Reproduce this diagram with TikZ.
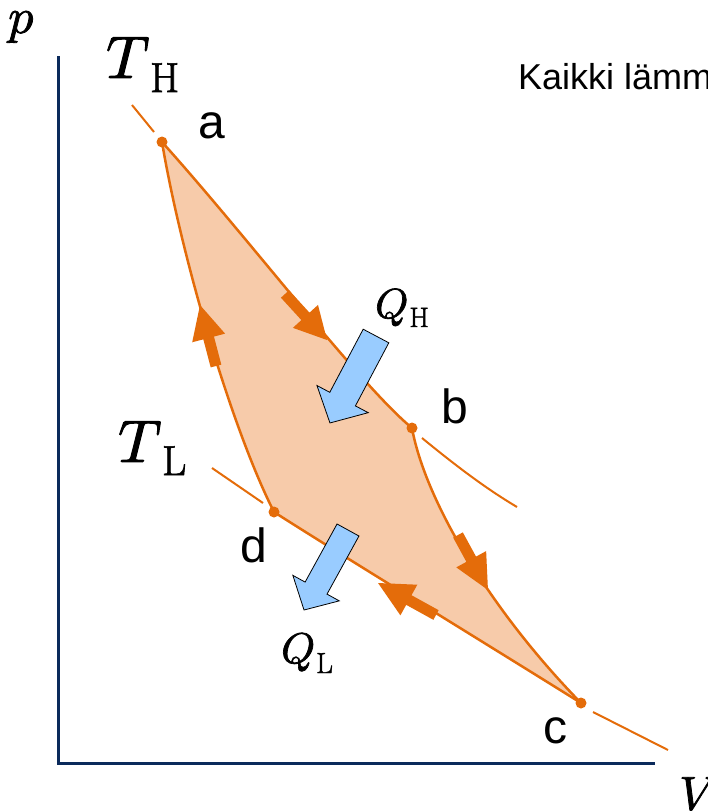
\documentclass[tikz,border=0pt]{standalone}
\usepackage{fontspec}
\usepackage{unicode-math}
\setmathfont{Latin Modern Math}[FakeBold=1.6]
\newfontfamily\arialf{Liberation Sans}
\newfontfamily\labserif[FakeBold=1.6]{Latin Modern Roman}
\definecolor{cyc}{HTML}{E46C0A}
\definecolor{cycfill}{HTML}{F7CBAA}
\definecolor{qblue}{HTML}{99CCFF}
\definecolor{axisblue}{HTML}{0B2A5B}
\tikzset{
  pics/blockarrow/.style n args={4}{code={
    \path[pic actions] (0,-#1) -- (#2,-#1) -- (#2,-#3) -- (#4,0) -- (#2,#3) -- (#2,#1) -- (0,#1) -- cycle;}},
  cycleline/.style={draw=cyc, line width=2.5pt, line join=round},
  isoline/.style={draw=cyc, line width=2pt},
  flowtip/.style={fill=cyc},
  qarrow/.style={fill=qblue, draw=black, line width=0.8pt, line join=miter},
  ptlabel/.style={font=\arialf\fontsize{48}{48}\selectfont, anchor=base west, inner sep=0pt},
  mlabel/.style={anchor=base west, inner sep=0pt, font=\labserif},
  axisline/.style={draw=axisblue, line width=3pt},
  vdot/.style={fill=cyc}
}
\begin{document}
\begin{tikzpicture}[x=1pt,y=-1pt]
\useasboundingbox (0,0) rectangle (707,811);
% state points
\coordinate (a) at (162,142);
\coordinate (b) at (412,428);
\coordinate (c) at (581,703);
\coordinate (d) at (274,512);
% isotherm extensions
\coordinate (h1) at (132,105);
\coordinate (h2) at (154,132);
\coordinate (h3) at (422,438);
\coordinate (h4) at (517,507);
\coordinate (l1) at (212,468);
\coordinate (l2) at (263,503);
\coordinate (l3) at (593,712);
\coordinate (l4) at (668,750);
% cycle fill
\fill[cycfill] (a) .. controls (250,240) and (360,385) .. (b)
  .. controls (425,500) and (490,610) .. (c)
  .. controls (480,640) and (330,548) .. (d)
  .. controls (230,425) and (180,250) .. (a) -- cycle;
% isotherm extensions
\draw[isoline] (h1) -- (h2);
\draw[isoline] (h3) .. controls (455,465) and (485,488) .. (h4);
\draw[isoline] (l1) -- (l2);
\draw[isoline] (l3) -- (l4);
% cycle edges
\draw[cycleline] (a) .. controls (250,240) and (360,385) .. (b);
\draw[cycleline] (b) .. controls (425,500) and (490,610) .. (c);
\draw[cycleline] (c) .. controls (480,640) and (330,548) .. (d);
\draw[cycleline] (d) .. controls (230,425) and (180,250) .. (a);
% flow direction arrows
\pic[flowtip, rotate=-47.6] at (285,294) {blockarrow={5.5}{30.3}{17}{62.3}};
\pic[flowtip, rotate=-61.4] at (458,535) {blockarrow={5.5}{27.6}{17}{62.6}};
\pic[flowtip, rotate=151.1] at (436,615) {blockarrow={5.5}{31}{17.5}{66.2}};
\pic[flowtip, rotate=104.7] at (216,366) {blockarrow={5.5}{29}{17}{63}};
% state dots
\fill[vdot] (a) circle (5.5);
\fill[vdot] (b) circle (5.5);
\fill[vdot] (c) circle (5.5);
\fill[vdot] (d) circle (5.5);
% heat arrows
\pic[qarrow, rotate=-117.9] at (376,336) {blockarrow={14.5}{71.4}{29}{98.4}};
\pic[qarrow, rotate=-118.8] at (348,530) {blockarrow={12.5}{66.3}{26.5}{91.3}};
% axes
\coordinate (ytop) at (58,56);
\coordinate (orig) at (58,763);
\coordinate (xend) at (655,763);
\draw[axisline] (ytop) -- (orig) -- (xend);
% labels
\node[ptlabel] (la) at (198,138) {a};
\node[ptlabel] (lb) at (441,423) {b};
\node[ptlabel] (lc) at (543,743) {c};
\node[ptlabel] (ld) at (240,562) {d};
\node[mlabel] (lp) at (8,33) {\fontsize{50}{50}\selectfont$p$};
\node[mlabel] (lV) at (679,810) {\fontsize{48}{48}\selectfont$V$};
\node[mlabel] (lTH) at (106,78) {\fontsize{60}{60}\selectfont$T$\raisebox{-14pt}{\fontsize{42}{42}\selectfont H}};
\node[mlabel] (lTL) at (118,462) {\fontsize{60}{60}\selectfont$T$\raisebox{-13pt}{\fontsize{42}{42}\selectfont L}};
\node[mlabel] (lQH) at (375,318) {\fontsize{42}{42}\selectfont$Q$\kern1pt\raisebox{-9pt}{\fontsize{28}{28}\selectfont H}};
\node[mlabel] (lQL) at (281,663) {\fontsize{43}{43}\selectfont$Q$\kern1pt\raisebox{-10pt}{\fontsize{29}{29}\selectfont L}};
\node[anchor=base west, inner sep=0pt, font=\arialf\fontsize{36}{36}\selectfont] (note) at (518,89) {Kaikki lämm};
\end{tikzpicture}
\end{document}
